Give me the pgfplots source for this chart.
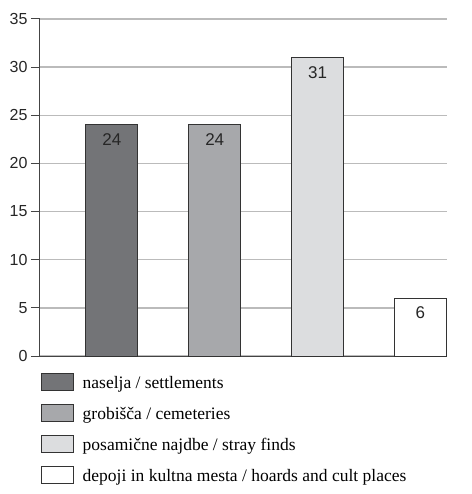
\documentclass[border=0pt]{standalone}
\usepackage{fontspec}
\setmainfont{Liberation Serif}
\setsansfont{Liberation Sans}
\usepackage{pgfplots}
\pgfplotsset{compat=1.18}
\definecolor{cA}{HTML}{737477}
\definecolor{cB}{HTML}{A7A8AB}
\definecolor{cC}{HTML}{DCDDDF}
\definecolor{grd}{HTML}{BBBBBB}
\definecolor{axl}{HTML}{444444}
\begin{document}
\begin{tikzpicture}
\begin{axis}[
  scale only axis, width=407pt, height=337pt,
  xmin=-0.70, xmax=3.26, ymin=0, ymax=35,
  ytick={0,5,...,35}, xtick=\empty,
  axis x line*=bottom, axis y line*=left,
  axis line style={axl, line width=1pt},
  ymajorgrids, grid style={grd, line width=1.3pt},
  tick align=outside, major tick length=9pt,
  tick style={axl, line width=1pt},
  /pgf/number format/assume math mode=true,
  yticklabel style={font=\fontsize{16}{19}\selectfont\sffamily, text=black!85},
  ybar, bar width=52pt, bar shift=0pt,
  nodes near coords,
  every node near coord/.append style={anchor=north, yshift=-5pt, font=\fontsize{17}{20}\selectfont\sffamily, text=black!85},
  legend cell align=left,
  legend image code/.code={\draw[#1, line width=1pt] (0pt,-8.5pt) rectangle (32pt,8.5pt); \path[draw=none, fill=none] (0pt,0pt) -- (41pt,0pt);},
  legend style={at={(rel axis cs:0,0)}, anchor=north west, yshift=-17pt, xshift=1pt,
    draw=none, fill=none, inner sep=0pt, row sep=13pt,
    font=\fontsize{17.5}{19}\selectfont,
    nodes={inner sep=0pt, text depth=0pt}},
]
\addplot[draw=black!80, fill=cA, line width=1pt] coordinates {(0,24)};
\addplot[draw=black!80, fill=cB, line width=1pt] coordinates {(1,24)};
\addplot[draw=black!80, fill=cC, line width=1pt] coordinates {(2,31)};
\addplot[draw=black!80, fill=white, line width=1pt] coordinates {(3,6)};
\legend{naselja / settlements, grobišča / cemeteries, posamične najdbe / stray finds, depoji in kultna mesta / hoards and cult places}
\end{axis}
\path ([xshift=-40pt,yshift=-138pt]current axis.south west) rectangle ([xshift=24pt,yshift=19pt]current axis.north east);
\end{tikzpicture}
\end{document}
